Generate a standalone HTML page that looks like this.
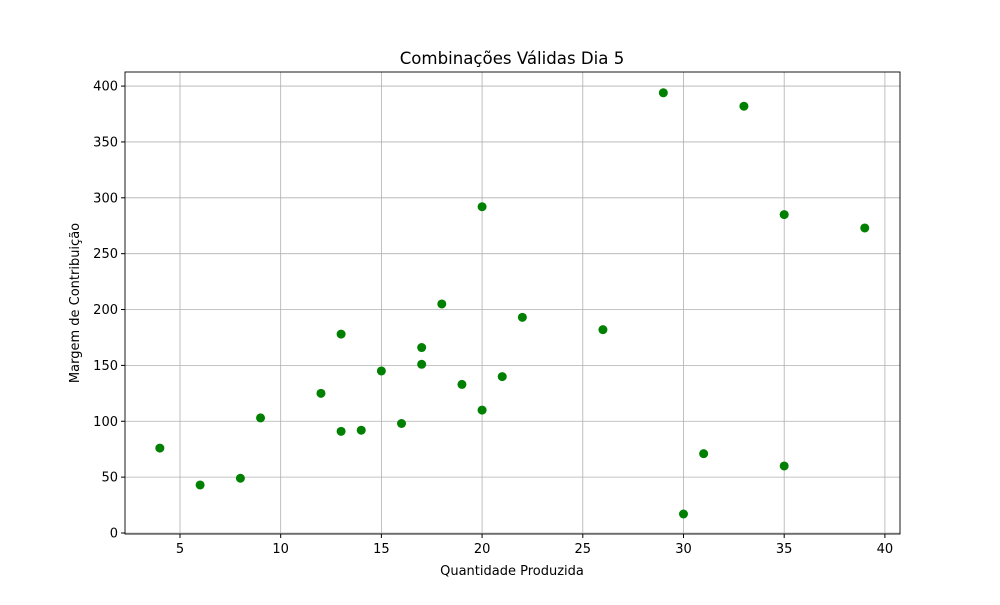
<!DOCTYPE html>
<html><head><meta charset="utf-8"><style>
body{margin:0;background:#fff;font-family:"Liberation Sans","DejaVu Sans",sans-serif}
svg text{font-family:"DejaVu Sans","Liberation Sans",sans-serif}
</style></head><body>
<svg id="chart" width="1000" height="600" xmlns="http://www.w3.org/2000/svg">
<rect width="1000" height="600" fill="#fff"/>
<g id="grid"></g><g id="pts"></g><g id="ticks"></g>
<rect x="125" y="72" width="775" height="462" fill="none" stroke="#000" stroke-width="0.9"/>
<text x="512" y="64" text-anchor="middle" font-size="16.6">Combinações Válidas Dia 5</text>
<text x="512" y="575" text-anchor="middle" font-size="13">Quantidade Produzida</text>
<text x="0" y="0" transform="translate(79,303) rotate(-90)" text-anchor="middle" font-size="13">Margem de Contribuição</text>
</svg>
<script>
const xValues=[4,6,8,9,12,13,13,14,15,16,17,17,18,19,20,20,21,22,26,29,30,31,33,35,35,39];
const yValues=[76,43,49,103,125,91,178,92,145,98,166,151,205,133,292,110,140,193,182,394,17,71,382,285,60,273];
const xTicks=[5,10,15,20,25,30,35,40];
const yTicks=[0,50,100,150,200,250,300,350,400];
const L=125,T=72,W=775,H=462,xmin=2.27,xmax=40.75,ymin=-0.9,ymax=412.6;
const sx=v=>L+(v-xmin)/(xmax-xmin)*W, sy=v=>T+H-(v-ymin)/(ymax-ymin)*H;
const NS="http://www.w3.org/2000/svg";
const g=document.getElementById('grid'),p=document.getElementById('pts'),t=document.getElementById('ticks');
function mk(tag,a,parent){const e=document.createElementNS(NS,tag);for(const k in a)e.setAttribute(k,a[k]);parent.appendChild(e);return e;}
xTicks.forEach(v=>{const x=sx(v);
 const l=mk('line',{x1:x,x2:x,y1:T,y2:T+H,stroke:'#b0b0b0','stroke-width':0.8},g);
 
 
 mk('line',{x1:x,x2:x,y1:T+H,y2:T+H+4,stroke:'#000'},t);
 const tx=mk('text',{x:x,y:T+H+19,'text-anchor':'middle','font-size':13},t);tx.textContent=v;
 
 });
yTicks.forEach(v=>{const y=sy(v);
 const l=mk('line',{x1:L,x2:L+W,y1:y,y2:y,stroke:'#b0b0b0','stroke-width':0.8},g);
 
 
 mk('line',{x1:L-4,x2:L,y1:y,y2:y,stroke:'#000'},t);
 const tx=mk('text',{x:L-7,y:y+4.5,'text-anchor':'end','font-size':13},t);tx.textContent=v;
 
 });
xValues.forEach((v,i)=>{const c=mk('circle',{cx:sx(v),cy:sy(yValues[i]),r:4.5,fill:'#008000'},p);
 
 });
</script>
</body></html>
